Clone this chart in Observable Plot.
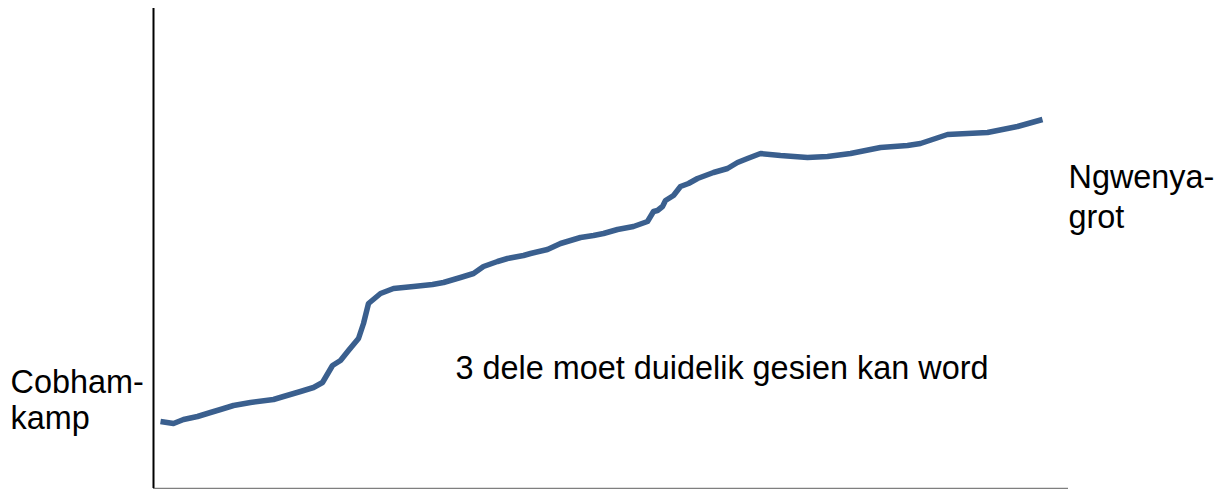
<!DOCTYPE html>
<html>
<head>
<meta charset="utf-8">
<script src="https://cdn.jsdelivr.net/npm/d3@7"></script>
<script src="https://cdn.jsdelivr.net/npm/@observablehq/plot@0.6"></script>
<style>
  html, body { margin: 0; padding: 0; background: #fff; }
  #chart svg { display: block; }
</style>
</head>
<body>
<div id="chart"></div>
<script>
// Profile: horizontal distance (arbitrary units) and elevation (arbitrary units)
const distance = [7, 20, 30, 44, 57, 67, 80, 97, 120, 130, 147, 160, 169, 179, 187, 195, 205, 210, 215, 227, 240, 260, 279, 290, 307, 320, 330, 344, 354, 370, 377, 394, 407, 427, 440, 450, 464, 480, 494, 500, 504, 509, 512, 520, 527, 535, 544, 560, 574, 584, 594, 607, 627, 654, 674, 697, 727, 754, 767, 794, 834, 864, 889];
const elevation = [67, 65, 69, 72, 76, 79, 83, 86, 89, 92, 97, 101, 106, 123, 128, 138, 150, 165, 185, 195, 200, 202, 204, 206, 211, 215, 222, 227, 230, 233, 235, 239, 245, 251, 253, 255, 259, 262, 267, 277, 278, 282, 288, 293, 302, 305, 310, 316, 320, 326, 330, 335, 333, 331, 332, 335, 341, 343, 345, 354, 356, 362, 369];

// Text labels
const labelText = ["Cobham-", "kamp", "Ngwenya-", "grot", "3 dele moet duidelik gesien kan word"];
const labelX = [-143, -143, 915, 915, 302];
const labelY = [96, 60, 301, 261, 110];

const profile = distance.map((d, i) => ({distance: d, elevation: elevation[i]}));
const labels = labelText.map((t, i) => ({text: t, x: labelX[i], y: labelY[i]}));

const chart = Plot.plot({
  width: 1216,
  height: 489,
  marginLeft: 153,
  marginRight: 148,
  marginTop: 8,
  marginBottom: 1,
  x: {domain: [0, 915], axis: null},
  y: {domain: [0, 480], axis: null},
  style: {fontFamily: "'Liberation Sans', Arial, sans-serif", background: "#fff"},
  marks: [
    Plot.ruleY([0], {x1: 0, x2: 915, stroke: "#7f7f7f", strokeWidth: 1.5}),
    Plot.ruleX([0], {y1: 0, y2: 480, stroke: "#000", strokeWidth: 2}),
    Plot.line(profile, {x: "distance", y: "elevation", stroke: "#3a5f8e", strokeWidth: 5.5, strokeLinejoin: "round", strokeLinecap: "butt", curve: "linear"}),
    Plot.text(labels, {x: "x", y: "y", text: "text", textAnchor: "start", lineAnchor: "bottom", fontSize: 32.4, fill: "#000"})
  ]
});
document.getElementById("chart").appendChild(chart);
</script>
</body>
</html>
